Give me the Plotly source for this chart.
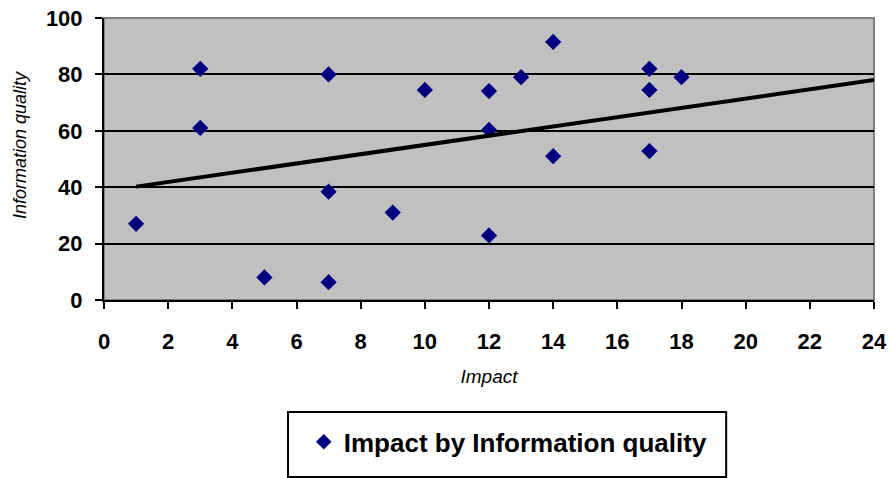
import plotly.graph_objects as go

impact = [1, 3, 3, 5, 7, 7, 7, 9, 10, 12, 12, 12, 13, 14, 14, 17, 17, 17, 18]
info_quality = [27, 82, 61, 8, 80, 38.4, 6.3, 31, 74.5, 74.1, 60.3, 22.9, 79, 91.5, 51, 82, 74.5, 52.8, 79]
trend_x = [1, 24]
trend_y = [40.2, 78]
x_ticks = list(range(0, 25, 2))
y_ticks = [0, 20, 40, 60, 80, 100]

FONT = "Liberation Sans, Arial, sans-serif"

fig = go.Figure()
fig.add_trace(go.Scatter(
    x=impact, y=info_quality, mode="markers", name="Impact by Information quality",
    marker=dict(symbol="diamond", size=12.5, color="#000080"),
))
fig.add_trace(go.Scatter(
    x=trend_x, y=trend_y, mode="lines", showlegend=False,
    line=dict(color="black", width=4),
))

fig.update_layout(
    width=893, height=478,
    margin=dict(l=104, r=19, t=18, b=178, autoexpand=False),
    paper_bgcolor="white", plot_bgcolor="#C0C0C0",
    font=dict(family=FONT, color="black"),
    showlegend=True,
    legend=dict(
        x=0.525, y=-0.503, xanchor="center", yanchor="middle",
        bgcolor="rgba(0,0,0,0)", borderwidth=0,
        font=dict(size=26, family=FONT, color="black", weight="bold"),
        itemsizing="constant",
    ),
    shapes=[
        dict(type="rect", xref="paper", yref="paper", x0=0.239, x1=0.808, y0=-0.397, y1=-0.628,
             line=dict(color="black", width=2), fillcolor="rgba(0,0,0,0)", layer="below"),
        dict(type="rect", xref="paper", yref="paper", x0=0, x1=1, y0=0, y1=1,
             line=dict(color="#808080", width=2), fillcolor="rgba(0,0,0,0)", layer="below"),
    ],
    annotations=[
        dict(text="Information quality", textangle=-90, xref="paper", yref="paper",
             x=-0.109, y=0.55, xanchor="center", yanchor="middle", showarrow=False,
             font=dict(size=18, family=FONT, style="italic", color="black")),
    ],
)

fig.update_xaxes(
    range=[0, 24], tickvals=x_ticks, ticktext=[str(v) for v in x_ticks],
    showgrid=False, zeroline=False, automargin=False,
    showline=True, linecolor="black", linewidth=2,
    ticks="outside", ticklen=7, tickwidth=2, tickcolor="black",
    ticklabelstandoff=14,
    tickfont=dict(size=22, family=FONT, color="black", weight="bold"),
    title=dict(text="Impact", font=dict(size=19, family=FONT, style="italic"), standoff=16),
)
fig.update_yaxes(
    range=[0, 100], tickvals=y_ticks, automargin=False,
    showgrid=True, gridcolor="black", gridwidth=2, zeroline=False,
    showline=True, linecolor="black", linewidth=2,
    ticks="outside", ticklen=7, tickwidth=2, tickcolor="black",
    ticklabelstandoff=8,
    tickfont=dict(size=22, family=FONT, color="black", weight="bold"),
)

fig.write_html("out.html")
